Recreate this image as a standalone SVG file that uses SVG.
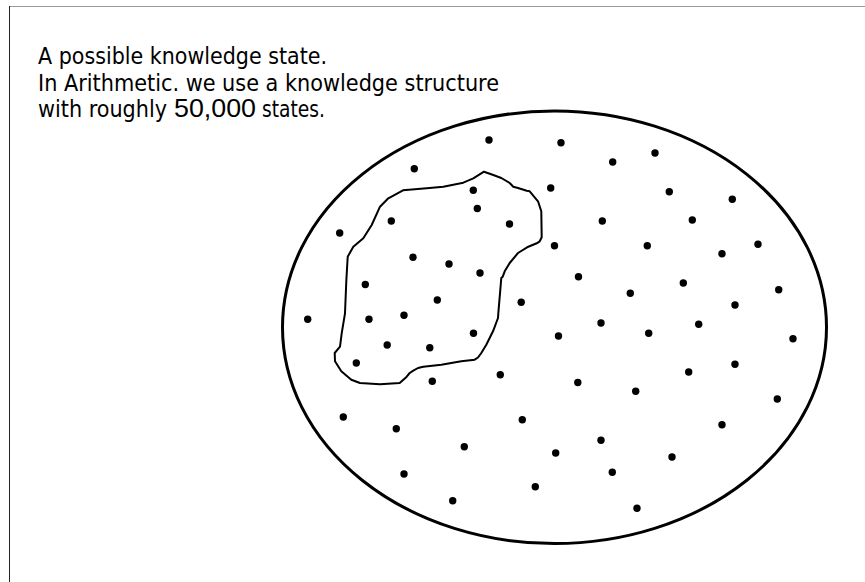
<svg xmlns="http://www.w3.org/2000/svg" width="865" height="582" viewBox="0 0 865 582">
<style>
.t{font-family:"DejaVu Sans Condensed","DejaVu Sans","Liberation Sans",sans-serif;font-size:23px;fill:#000}
.n{font-family:"Liberation Sans Narrow","Liberation Sans",sans-serif;font-size:25px;fill:#000}
.d{fill:#000}
</style>
<rect width="865" height="582" fill="#fff"/>
<g id="frame">
<line x1="9" y1="6.5" x2="865" y2="6.5" stroke="#9a9a9a" stroke-width="1"/>
<line x1="9.5" y1="6" x2="9.5" y2="582" stroke="#222" stroke-width="1"/>
</g>
<g id="caption">
<text class="t" x="38" y="63.5" textLength="289" lengthAdjust="spacingAndGlyphs">A possible knowledge state.</text>
<text class="t" x="38" y="90.5" textLength="461" lengthAdjust="spacingAndGlyphs">In Arithmetic. we use a knowledge structure</text>
<text class="t" x="38" y="117" textLength="129" lengthAdjust="spacingAndGlyphs">with roughly</text>
<text class="n" x="174" y="117" textLength="82" lengthAdjust="spacingAndGlyphs">50,000</text>
<text class="t" x="262" y="117" textLength="63" lengthAdjust="spacingAndGlyphs">states.</text>
</g>
<g id="structure">
<ellipse cx="554.5" cy="327.3" rx="272" ry="216.3" fill="none" stroke="#000" stroke-width="3"/>
</g>
<g id="state">
<path d="M484,171.7 L493.3,175 L501.3,178 L509.7,183 L513.3,186.7 L518,188 L526.7,190.7 L529.7,191.3 L538,201.3 L541.3,211.3 L541.7,237.3 L539.7,241.3 L536.7,243.3 L528.3,246.7 L518,253 L509.7,263 L504.7,271.3 L502.7,276.7 L501.3,278 L500,293.3 L498.3,313.3 L498,318 L493,331.3 L486.3,344.7 L481.3,353 L478,357.5 L474.7,359.7 L461.3,361.3 L441.3,364.7 L423.3,366.7 L418,368 L413.3,370.7 L409.7,373 L406.7,376.7 L399.7,383 L380,384.3 L360,383 L351.3,379.7 L341.3,371.3 L335,361.3 L334.7,353 L340,346.7 L341.7,333.3 L345,313.3 L346.3,281.3 L347.7,256.7 L353.3,246.7 L363.3,238.3 L371.7,225 L380,206.7 L388.3,198.3 L403,190.3 L426.7,188.3 L443.3,186.7 L463.3,182.7 L473.3,178.3 Z" fill="none" stroke="#000" stroke-width="2" stroke-linejoin="round"/>
</g>
<g id="dots" class="d">
<circle cx="489" cy="140" r="3.7"/>
<circle cx="561" cy="142.7" r="3.7"/>
<circle cx="612.7" cy="162" r="3.7"/>
<circle cx="655" cy="153" r="3.7"/>
<circle cx="414.3" cy="168.7" r="3.7"/>
<circle cx="473.3" cy="190.3" r="3.7"/>
<circle cx="550.7" cy="188" r="3.7"/>
<circle cx="477.3" cy="208.5" r="3.7"/>
<circle cx="391.3" cy="221" r="3.7"/>
<circle cx="509.5" cy="224" r="3.7"/>
<circle cx="339.7" cy="233" r="3.7"/>
<circle cx="554.5" cy="245.7" r="3.7"/>
<circle cx="413" cy="257.3" r="3.7"/>
<circle cx="449" cy="264" r="3.7"/>
<circle cx="480" cy="273" r="3.7"/>
<circle cx="578.5" cy="276.7" r="3.7"/>
<circle cx="365.3" cy="284.5" r="3.7"/>
<circle cx="437.3" cy="300" r="3.7"/>
<circle cx="521.2" cy="302.3" r="3.7"/>
<circle cx="307.7" cy="319.3" r="3.7"/>
<circle cx="369" cy="319.3" r="3.7"/>
<circle cx="404" cy="315.2" r="3.7"/>
<circle cx="473.5" cy="333.3" r="3.7"/>
<circle cx="558.5" cy="336" r="3.7"/>
<circle cx="387.2" cy="345" r="3.7"/>
<circle cx="429.8" cy="347.7" r="3.7"/>
<circle cx="356.3" cy="363" r="3.7"/>
<circle cx="500.3" cy="374.7" r="3.7"/>
<circle cx="432.3" cy="381.3" r="3.7"/>
<circle cx="577.8" cy="382.5" r="3.7"/>
<circle cx="669.3" cy="191.7" r="3.7"/>
<circle cx="732.3" cy="199.3" r="3.7"/>
<circle cx="602.3" cy="221" r="3.7"/>
<circle cx="692.3" cy="220" r="3.7"/>
<circle cx="647.3" cy="245.7" r="3.7"/>
<circle cx="722" cy="253.7" r="3.7"/>
<circle cx="758" cy="244.3" r="3.7"/>
<circle cx="630.3" cy="293.3" r="3.7"/>
<circle cx="683.3" cy="283" r="3.7"/>
<circle cx="778.7" cy="289.7" r="3.7"/>
<circle cx="735" cy="305" r="3.7"/>
<circle cx="601" cy="323" r="3.7"/>
<circle cx="648.7" cy="333.3" r="3.7"/>
<circle cx="698.7" cy="324.3" r="3.7"/>
<circle cx="793" cy="338.7" r="3.7"/>
<circle cx="735" cy="364.3" r="3.7"/>
<circle cx="688.7" cy="372" r="3.7"/>
<circle cx="635.7" cy="391.3" r="3.7"/>
<circle cx="777.3" cy="399" r="3.7"/>
<circle cx="343.3" cy="417" r="3.7"/>
<circle cx="396.3" cy="428.7" r="3.7"/>
<circle cx="522.3" cy="419.7" r="3.7"/>
<circle cx="722" cy="424.7" r="3.7"/>
<circle cx="464.3" cy="446.7" r="3.7"/>
<circle cx="601" cy="440.3" r="3.7"/>
<circle cx="555.7" cy="453" r="3.7"/>
<circle cx="672" cy="457" r="3.7"/>
<circle cx="404" cy="474" r="3.7"/>
<circle cx="612.3" cy="472.3" r="3.7"/>
<circle cx="535.3" cy="486.7" r="3.7"/>
<circle cx="452.7" cy="500.7" r="3.7"/>
<circle cx="637" cy="508.3" r="3.7"/>
</g>
</svg>
